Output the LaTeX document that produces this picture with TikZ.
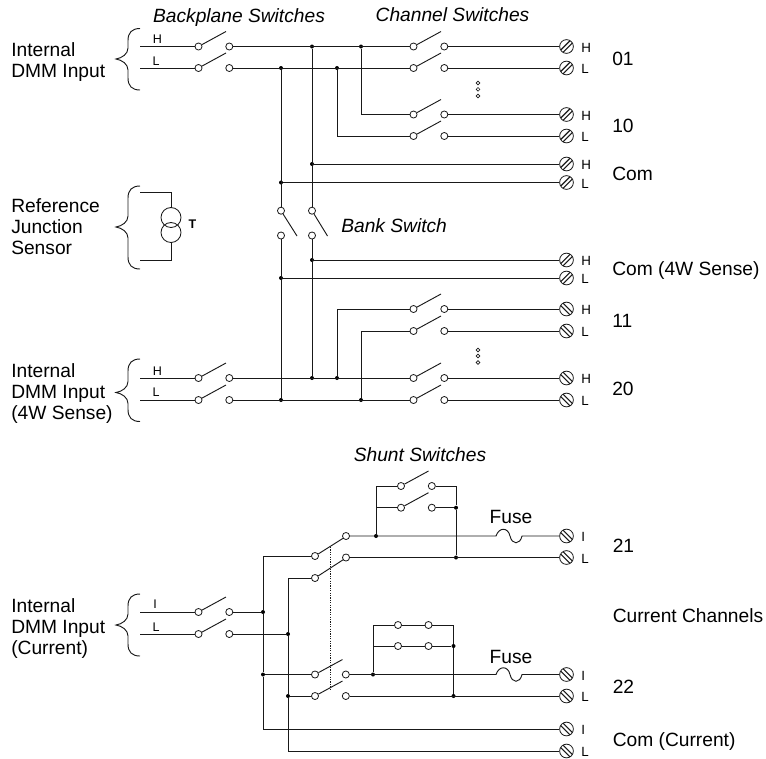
\documentclass[tikz,border=0pt]{standalone}
\usepackage{fontspec}
\setmainfont{Liberation Sans}
\tikzset{
  wire/.style={line width=0.7pt,black!90},
  contact/.style={circle,draw=black!90,line width=0.6pt,fill=white,inner sep=0pt,minimum size=5.3pt},
  jdot/.style={circle,fill=black,inner sep=0pt,minimum size=3pt},
  tiny dot/.style={circle,draw=black!90,line width=0.45pt,inner sep=0pt,minimum size=2.8pt},
  lbl/.style={font=\fontsize{14.4}{15.75}\selectfont,anchor=west,inner sep=0pt,align=left},
  ttl/.style={font=\fontsize{14.4}{15.75}\selectfont\itshape,inner sep=0pt},
  small/.style={font=\fontsize{10}{10}\selectfont,anchor=west,inner sep=0pt},
  smallb/.style={font=\fontsize{9.4}{10}\selectfont,inner sep=0pt},
  term/.style={circle,draw=black!90,line width=0.6pt,fill=white,inner sep=0pt,minimum size=10.3pt},
  termup/.style={term,path picture={
    \draw[line width=0.8pt,black!90] ([shift={(-0.85pt,0.85pt)}]path picture bounding box.center)++(-4pt,-4pt) -- ++(8pt,8pt);
    \draw[line width=0.8pt,black!90] ([shift={(0.85pt,-0.85pt)}]path picture bounding box.center)++(-4pt,-4pt) -- ++(8pt,8pt);}},
  termdn/.style={term,path picture={
    \draw[line width=0.8pt,black!90] ([shift={(0.85pt,0.85pt)}]path picture bounding box.center)++(-4pt,4pt) -- ++(8pt,-8pt);
    \draw[line width=0.8pt,black!90] ([shift={(-0.85pt,-0.85pt)}]path picture bounding box.center)++(-4pt,4pt) -- ++(8pt,-8pt);}},
}
% switch: name, x of left contact, y, y of right contact
\newcommand\swt[4]{%
  \node[contact] (#1a) at (#2,#3) {};
  \node[contact] (#1b) at (#2+30.8,#4) {};
  \coordinate (#1t) at (#2+27.5,#4-15);
  \draw[wire] (#1a) -- (#1t);
}
% terminal: name, y, style, letter
\newcommand\trm[4]{%
  \node[#3] (#1) at (566.5,#2) {};
  \node[small] (#1lab) at (581,#2+1) {#4};
}
% brace: top y, tip y, bottom y
\newcommand\brc[3]{%
  \draw[wire] (140,#1) .. controls (132,#1) and (128,#1+4) .. (128,#1+12)
     -- (128,#2-11) .. controls (128,#2-5) and (122,#2-1) .. (116,#2)
     .. controls (122,#2+1) and (128,#2+5) .. (128,#2+11)
     -- (128,#3-12) .. controls (128,#3-4) and (132,#3) .. (140,#3);
}
\begin{document}
\begin{tikzpicture}[x=0.75pt,y=-0.75pt]
\useasboundingbox (0,0) rectangle (766,758);

% ---------- braces
\brc{28.5}{59}{90}
\brc{186}{227}{269}
\brc{359}{392.5}{421.5}
\brc{594}{625}{656}

% ---------- text
\node[lbl] (t1) at (11,62.5) {Internal\\DMM Input};
\node[lbl] (t2) at (11,226.5) {Reference\\Junction\\Sensor};
\node[lbl] (t3) at (11,393.5) {Internal\\DMM Input\\(4W Sense)};
\node[lbl] (t4) at (11,629) {Internal\\DMM Input\\(Current)};
\node[ttl] (h1) at (239,17.5) {Backplane Switches};
\node[ttl] (h2) at (452.5,15) {Channel Switches};
\node[ttl,anchor=west] (h3) at (341,225.5) {Bank Switch};
\node[ttl] (h4) at (420,455) {Shunt Switches};
\node[lbl] (n01) at (612,59) {01};
\node[lbl] (n10) at (612,126) {10};
\node[lbl] (ncom) at (612,173.5) {Com};
\node[lbl] (ncom4) at (612,271) {Com (4W Sense)};
\node[lbl] (n11) at (612,320.5) {11};
\node[lbl] (n20) at (612,389) {20};
\node[lbl] (n21) at (612.5,546) {21};
\node[lbl] (ncc) at (612.5,615.5) {Current Channels};
\node[lbl] (n22) at (612.5,686.5) {22};
\node[lbl] (ncc2) at (612.5,742) {Com (Current)};
\node[lbl,anchor=center] (ff1) at (511,517) {Fuse};
\node[lbl,anchor=center] (ff2) at (511,657) {Fuse};
\node[smallb] (a1) at (157.5,39) {H};
\node[smallb] (a2) at (156,61) {L};
\node[smallb] (a3) at (157.5,371) {H};
\node[smallb] (a4) at (156,392.5) {L};
\node[smallb] (a5) at (155,604) {I};
\node[smallb] (a6) at (156,627) {L};
\node[smallb,font=\fontsize{9.4}{10}\selectfont\bfseries] (tt) at (192.5,224) {T};

% ---------- reference junction sensor
\coordinate (r1) at (140,192);
\coordinate (r2) at (140,260);
\node[circle,draw=black!90,line width=0.65pt,inner sep=0pt,minimum size=15pt] (rc1) at (171,217.5) {};
\node[circle,draw=black!90,line width=0.65pt,inner sep=0pt,minimum size=15pt] (rc2) at (171,232.5) {};
\draw[wire] (r1) -| (rc1.north);
\draw[wire] (r2) -| (rc2.south);

% ---------- terminals
\trm{t01H}{46.5}{termup}{H}
\trm{t01L}{68}{termup}{L}
\trm{t10H}{114.5}{termup}{H}
\trm{t10L}{136}{termup}{L}
\trm{tcH}{164}{termup}{H}
\trm{tcL}{182.5}{termup}{L}
\trm{t4H}{260}{termup}{H}
\trm{t4L}{278}{termup}{L}
\trm{t11H}{309}{termdn}{H}
\trm{t11L}{331}{termdn}{L}
\trm{t20H}{378}{termdn}{H}
\trm{t20L}{400}{termdn}{L}
\trm{t21I}{536}{termdn}{I}
\trm{t21L}{557.5}{termdn}{L}
\trm{t22I}{674.5}{termdn}{I}
\trm{t22L}{696}{termdn}{L}
\trm{tiI}{729}{termdn}{I}
\trm{tiL}{751}{termdn}{L}

% ---------- upper switches
\swt{A}{198.5}{46.5}{46.5}
\swt{B}{198.5}{68}{68}
\swt{C}{413.5}{46.5}{46.5}
\swt{D}{413.5}{68}{68}
\swt{E}{413.5}{114.5}{114.5}
\swt{F}{413.5}{136}{136}
\swt{G}{413.5}{309}{309}
\swt{H}{413.5}{331}{331}
\swt{J}{413.5}{378}{378}
\swt{K}{413.5}{400}{400}
\swt{L}{198.5}{378}{378}
\swt{M}{198.5}{400}{400}

% ---------- bank switch
\node[contact] (bu1) at (281,210.7) {};
\node[contact] (bl1) at (281,235.5) {};
\node[contact] (bu2) at (312,210.7) {};
\node[contact] (bl2) at (312,235.5) {};
\coordinate (ba1) at (297,236);
\coordinate (ba2) at (327.5,236);
\draw[wire] (bu1) -- (ba1);
\draw[wire] (bu2) -- (ba2);

% ---------- junctions upper
\node[jdot] (d1) at (312,46.5) {};
\node[jdot] (d2) at (361,46.5) {};
\node[jdot] (d3) at (281,68) {};
\node[jdot] (d4) at (337,68) {};
\node[jdot] (d5) at (312,164) {};
\node[jdot] (d6) at (281,182.5) {};
\node[jdot] (d7) at (312,260) {};
\node[jdot] (d8) at (281,278) {};
\node[jdot] (d9) at (312,378) {};
\node[jdot] (d10) at (337,378) {};
\node[jdot] (d11) at (281,400) {};
\node[jdot] (d12) at (361,400) {};

% ---------- lower section switches
\swt{P}{198.5}{612}{612}
\swt{Q}{198.5}{634}{634}
\node[contact] (Ua) at (315,556) {};
\node[contact] (Ub) at (346,536) {};
\node[contact] (Va) at (315,578) {};
\node[contact] (Vb) at (346,557.5) {};
\coordinate (Ut) at (343.5,538);
\coordinate (Vt) at (343.5,559.5);
\draw[wire] (Ua) -- (Ut);
\draw[wire] (Va) -- (Vt);
\swt{W}{315}{674.5}{674.5}
\swt{X}{315}{696}{696}
\swt{S}{401}{486}{486}
\swt{T}{401}{507.7}{507.7}
\node[contact] (n1a) at (398,625) {};
\node[contact] (n1b) at (428.5,625) {};
\node[contact] (n2a) at (398,646) {};
\node[contact] (n2b) at (428.5,646) {};

% ---------- junctions lower
\node[jdot] (j1) at (263,612) {};
\node[jdot] (j2) at (288,634) {};
\node[jdot] (j3) at (263,674.5) {};
\node[jdot] (j4) at (288,696) {};
\node[jdot] (k1) at (376,536) {};
\node[jdot] (k2) at (456,507.7) {};
\node[jdot] (k3) at (456,557.5) {};
\coordinate (k4) at (376,507.7);
\node[jdot] (m1) at (373,674.5) {};
\node[jdot] (m2) at (453.5,646) {};
\node[jdot] (m3) at (453.5,696) {};
\coordinate (m4) at (373,646);

% ---------- inputs
\coordinate (iA) at (140,46.5);
\coordinate (iB) at (140,68);
\coordinate (iL) at (140,378);
\coordinate (iM) at (140,400);
\coordinate (iP) at (140,612);
\coordinate (iQ) at (140,634);
\draw[wire] (iA) -- (Aa);
\draw[wire] (iB) -- (Ba);
\draw[wire] (iL) -- (La);
\draw[wire] (iM) -- (Ma);
\draw[wire] (iP) -- (Pa);
\draw[wire] (iQ) -- (Qa);

% ---------- upper wiring
\draw[wire] (Ab) -- (Ca);
\draw[wire] (Bb) -- (Da);
\draw[wire] (Cb) -- (t01H);
\draw[wire] (Db) -- (t01L);
\draw[wire] (Eb) -- (t10H);
\draw[wire] (Fb) -- (t10L);
\draw[wire] (d2) |- (Ea);
\draw[wire] (d4) |- (Fa);
\draw[wire] (d5) -- (tcH);
\draw[wire] (d6) -- (tcL);
\draw[wire] (d3) -- (bu1);
\draw[wire] (d1) -- (bu2);
\draw[wire] (bl1) -- (d11);
\draw[wire] (bl2) -- (d9);
\draw[wire] (d7) -- (t4H);
\draw[wire] (d8) -- (t4L);
\draw[wire] (d10) |- (Ga);
\draw[wire] (d12) |- (Ha);
\draw[wire] (Gb) -- (t11H);
\draw[wire] (Hb) -- (t11L);
\draw[wire] (Lb) -- (Ja);
\draw[wire] (Mb) -- (Ka);
\draw[wire] (Jb) -- (t20H);
\draw[wire] (Kb) -- (t20L);

% ---------- lower wiring
\draw[wire] (Pb) -- (j1);
\draw[wire] (Qb) -- (j2);
\draw[wire] (j1) |- (Ua);
\draw[wire] (j2) |- (Va);
\draw[wire] (j1) -- (j3);
\draw[wire] (j2) -- (j4);
\draw[wire] (j3) -- (Wa);
\draw[wire] (j4) -- (Xa);
\draw[wire] (j3) |- (tiI);
\draw[wire] (j4) |- (tiL);
\coordinate (z1) at (330,547);
\coordinate (z2) at (330,689);
\draw[line width=0.45pt,black!90,dash pattern=on 0.9pt off 0.9pt] (z1) -- (z2);

% channel 21
\coordinate (f1l) at (496,536);
\coordinate (f1r) at (522,536);
\draw[wire] (Ub) -- (f1l) .. controls (499,527) and (508,527) .. (510,536)
  .. controls (512,545) and (520,545) .. (f1r) -- (t21I);
\draw[wire] (Vb) -- (t21L);
\draw[wire] (k1) |- (Sa);
\draw[wire] (k4) -- (Ta);
\draw[wire] (Sb) -| (k2);
\draw[wire] (Tb) -- (k2);
\draw[wire] (k2) -- (k3);

% channel 22
\coordinate (f2l) at (496,674.5);
\coordinate (f2r) at (522,674.5);
\draw[wire] (Wb) -- (f2l) .. controls (499,665.5) and (508,665.5) .. (510,674.5)
  .. controls (512,683.5) and (520,683.5) .. (f2r) -- (t22I);
\draw[wire] (Xb) -- (t22L);
\draw[wire] (m1) |- (n1a);
\draw[wire] (n1a) -- (n1b);
\draw[wire] (n1b) -| (m2);
\draw[wire] (m4) -- (n2a);
\draw[wire] (n2a) -- (n2b);
\draw[wire] (n2b) -- (m2);
\draw[wire] (m2) -- (m3);

% ---------- ellipsis marks
\node[tiny dot] (e1) at (478,83) {};
\node[tiny dot] (e2) at (478,89.3) {};
\node[tiny dot] (e3) at (478,96) {};
\node[tiny dot] (e4) at (478,350) {};
\node[tiny dot] (e5) at (478,356) {};
\node[tiny dot] (e6) at (478,362.5) {};
\end{tikzpicture}
\end{document}
